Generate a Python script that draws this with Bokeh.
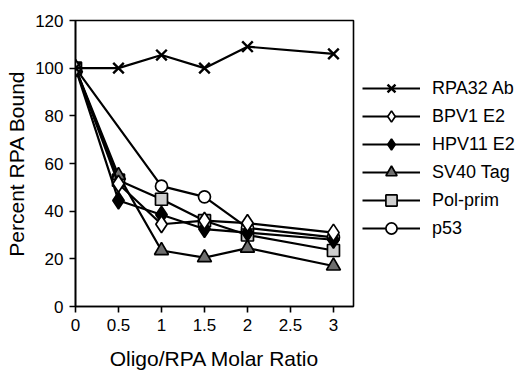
from bokeh.plotting import figure
from bokeh.models import Range1d, FixedTicker, Legend, LegendItem
from bokeh.embed import file_html
from bokeh.resources import INLINE

# ---- data ----
x_ticks = [0, 0.5, 1, 1.5, 2, 2.5, 3]
x_tick_labels = ["0", "0.5", "1", "1.5", "2", "2.5", "3"]
y_ticks = [0, 20, 40, 60, 80, 100, 120]

x_main = [0, 0.5, 1, 1.5, 2, 3]
rpa32_ab = [100, 100, 105.5, 100, 109, 106]
bpv1_e2 = [100, 51.5, 34.5, 36, 35, 31]
hpv11_e2 = [100, 44.5, 38.5, 32.5, 31, 28]
sv40_tag = [100, 55, 23.5, 20.5, 24.5, 17]
polprim_x = [0, 0.5, 1, 1.5, 2, 3]
pol_prim = [100, 53, 45, 36, 30, 23.5]
p53_x = [0, 1, 1.5, 2, 3]
p53 = [100, 50.5, 46, 33, 29]

FONT = "Liberation Sans"

p = figure(frame_width=278, frame_height=286, output_backend="svg",
           toolbar_location=None,
           x_range=Range1d(0, 3.233), y_range=Range1d(0, 120),
           min_border_left=75, min_border_right=0, min_border_top=20,
           min_border_bottom=66)
p.grid.visible = False
p.background_fill_color = "white"
p.border_fill_color = "white"
p.outline_line_color = "black"
p.outline_line_width = 1.6

for ax in (p.xaxis[0], p.yaxis[0]):
    ax.axis_line_width = 1.6
    ax.major_tick_line_width = 1.6
    ax.major_tick_in = 0
    ax.major_tick_out = 6
    ax.minor_tick_line_color = None
    ax.major_label_text_font = FONT
    ax.major_label_text_font_size = "17px"
    ax.major_label_text_color = "black"
    ax.axis_label_text_font = FONT
    ax.axis_label_text_font_size = "21px"
    ax.axis_label_text_font_style = "normal"
    ax.axis_label_text_color = "black"

p.xaxis.ticker = FixedTicker(ticks=x_ticks)
p.xaxis.major_label_overrides = {t: l for t, l in zip(x_ticks, x_tick_labels)}
p.xaxis.major_label_standoff = 6
p.xaxis.axis_label = "Oligo/RPA Molar Ratio"
p.xaxis.axis_label_standoff = 13

p.yaxis.ticker = FixedTicker(ticks=y_ticks)
p.yaxis.major_label_standoff = 6
p.yaxis.axis_label = "Percent RPA Bound"
p.yaxis.axis_label_standoff = 4

LW = 2.2
MLW = 1.7

def series(xs, ys, marker, fill, size):
    ln = p.line(xs, ys, line_color="black", line_width=LW)
    mk = p.scatter(xs, ys, marker=marker, size=size, fill_color=fill,
                   line_color="black", line_width=MLW)
    return [ln, mk]

r_p53 = series(p53_x, p53, "circle", "white", 12)
r_pol = series(polprim_x, pol_prim, "square", "#cfcfcf", 12)
r_sv40 = series(x_main, sv40_tag, "triangle", "#6e6e6e", 14)
r_hpv = series(x_main, hpv11_e2, "diamond", "black", 17)
r_bpv = series(x_main, bpv1_e2, "diamond", "white", 17)
r_rpa = series(x_main, rpa32_ab, "x", None, 15)
r_rpa[1].glyph.line_width = 2.4

items = [
    LegendItem(label="RPA32 Ab", renderers=r_rpa),
    LegendItem(label="BPV1 E2", renderers=r_bpv),
    LegendItem(label="HPV11 E2", renderers=r_hpv),
    LegendItem(label="SV40 Tag", renderers=r_sv40),
    LegendItem(label="Pol-prim", renderers=r_pol),
    LegendItem(label="p53", renderers=r_p53),
]
legend = Legend(items=items, location=(9, 64), orientation="vertical",
                glyph_width=58, glyph_height=28, label_height=28,
                label_standoff=12, spacing=0, padding=0, margin=0,
                label_text_font=FONT, label_text_font_size="18px",
                label_text_color="black",
                background_fill_alpha=0, border_line_color=None)
p.add_layout(legend, "right")

open("out.html", "w").write(file_html(p, INLINE))
